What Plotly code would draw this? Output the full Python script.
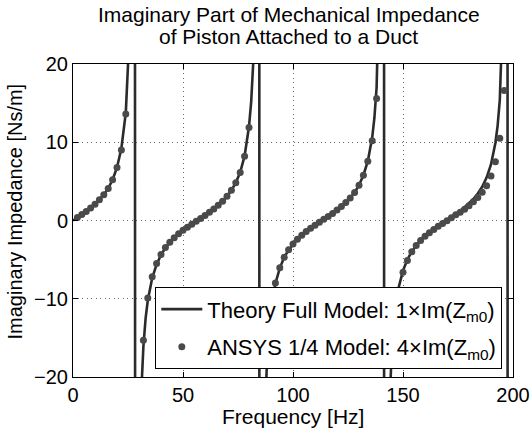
import plotly.graph_objects as go

# Theory curve (full model)
theory_freq = [0, 2, 4, 6, 8, 10, 12, 14, 16, 18, 20, 22, 24, 25, 26, 27, 28, 28.5, 29, 30,
               31, 32, 33, 34, 36, 38, 40, 42, 44, 46, 48, 50, 52, 54, 56, 58, 60, 62, 64, 66,
               68, 70, 72, 74, 76, 78, 80, 81, 82, 83, 84, 84.6, 84.8, 86, 87, 88, 89, 90, 92, 94,
               96, 98, 100, 102, 104, 106, 108, 110, 112, 114, 116, 118, 120, 122, 124, 126, 128, 130, 132, 134,
               136, 137, 138, 139, 140, 141, 141.3, 141.5, 142, 143, 144, 145, 146, 148, 150, 152, 154, 156,
               158, 160, 162, 164, 166, 168, 170, 172, 174, 176, 178, 180, 182, 184, 186, 188, 190, 192,
               193, 194, 195, 196, 197, 197.4, 197.7, 198, 199, 200]
theory_imz = [0, 0.37, 0.76, 1.16, 1.59, 2.08, 2.64, 3.29, 4.10, 5.21, 6.78, 9.23, 13.78, 18.25, 25.97, 46.6, 200.7, -301, -86.3, -35.4,
              -22.2, -16.1, -12.5, -10.2, -7.35, -5.61, -4.40, -3.51, -2.82, -2.24, -1.73, -1.28, -0.87, -0.49, -0.11, 0.26, 0.64, 1.03, 1.46, 1.93,
              2.46, 3.09, 3.85, 4.83, 6.17, 8.25, 12.01, 15.2, 20.6, 31.6, 66.9, 300, -300, -54.8, -28.6, -19.3, -14.5, -11.5, -8.04, -6.08,
              -4.71, -3.76, -3.02, -2.40, -1.88, -1.42, -0.99, -0.60, -0.22, 0.15, 0.52, 0.91, 1.33, 1.78, 2.29, 2.89, 3.59, 4.51, 5.79, 7.57,
              10.6, 13.1, 17.0, 24.0, 40.1, 120.5, 300, -300, -120.9, -40.2, -22.5, -16.2, -12.6, -8.6, -6.4, -5.0, -3.95, -3.17,
              -2.52, -1.98, -1.51, -1.08, -0.68, -0.30, 0.07, 0.45, 0.83, 1.24, 1.69, 2.18, 2.75, 3.44, 4.31, 5.48, 7.16, 9.9,
              12.1, 15.4, 21.0, 32.5, 75, 250, -300, -170, -44.4, -25.4]

# ANSYS 1/4 model (scaled x4)
ansys_freq = [2, 4, 6, 8, 10, 12, 14, 16, 18, 20, 22, 24,
              32, 34, 36, 38, 40, 42, 44, 46, 48, 50, 52, 54, 56, 58, 60, 62, 64, 66, 68, 70, 72, 74, 76, 78, 80,
              90, 92, 94, 96, 98, 100, 102, 104, 106, 108, 110, 112, 114, 116, 118, 120, 122, 124, 126, 128, 130,
              132, 134, 136, 138,
              146, 148, 150, 152, 154, 156, 158, 160, 162, 164, 166, 168, 170, 172, 174, 176, 178, 180, 182, 184,
              186, 188, 190, 192, 194, 196]
ansys_imz = [0.37, 0.76, 1.16, 1.59, 2.08, 2.64, 3.29, 4.10, 5.21, 6.78, 9.0, 13.6,
             -15.3, -9.9, -7.2, -5.5, -4.35, -3.45, -2.78, -2.2, -1.7, -1.25, -0.85, -0.47, -0.1, 0.27, 0.65, 1.04, 1.47, 1.94, 2.47, 3.1, 3.86, 4.84, 6.15, 8.2, 11.9,
             -11.5, -8.0, -6.05, -4.7, -3.75, -3.0, -2.4, -1.88, -1.42, -0.99, -0.6, -0.22, 0.15, 0.52, 0.91, 1.33, 1.78, 2.29, 2.89, 3.59, 4.51,
             5.79, 7.57, 10.2, 15.6,
             -12.8, -8.9, -6.6, -5.1, -4.0, -3.2, -2.55, -2.0, -1.55, -1.15, -0.75, -0.38, -0.02, 0.35, 0.72, 1.05, 1.45, 1.9, 2.4, 2.95,
             3.6, 4.45, 5.7, 7.5, 10.5, 16.6]

x_ticks = [0, 50, 100, 150, 200]
y_ticks = [-20, -10, 0, 10, 20]

FONT = "Liberation Sans, Arial, Helvetica, sans-serif"

fig = go.Figure()
fig.add_trace(go.Scatter(
    x=theory_freq, y=theory_imz, mode="lines",
    line=dict(color="#2b2b2b", width=2.6),
    name="Theory Full Model: 1×Im(Z<sub>m0</sub>)",
    legendgroup="a",
))
fig.add_trace(go.Scatter(
    x=ansys_freq, y=ansys_imz, mode="markers",
    marker=dict(color="#4a4a4a", size=7),
    name="ANSYS 1/4 Model: 4×Im(Z<sub>m0</sub>)",
    legendgroup="b",
))

axis_common = dict(
    showline=True, linecolor="black", linewidth=1, mirror="ticks",
    ticks="inside", ticklen=5, tickcolor="black", tickwidth=1,
    showgrid=True, gridcolor="#6a6a6a", gridwidth=1, griddash="1px,3.5px",
    zeroline=False, automargin=False,
    tickfont=dict(family=FONT, size=20, color="black"),
)

fig.update_layout(
    width=530, height=432,
    margin=dict(l=73, r=17, t=64, b=55, autoexpand=False),
    paper_bgcolor="white", plot_bgcolor="white",
    font=dict(family=FONT, color="black"),
    xaxis=dict(range=[0, 200], tickvals=x_ticks, **axis_common),
    yaxis=dict(range=[-20, 20], tickvals=y_ticks, **axis_common),
    showlegend=True,
    legend=dict(
        x=0.9757, xanchor="right", y=0.0246, yanchor="bottom",
        bgcolor="white", bordercolor="black", borderwidth=1,
        font=dict(family=FONT, size=22, color="black"),
        itemwidth=41, traceorder="grouped", tracegroupgap=6,
    ),
    annotations=[
        dict(text="Imaginary Part of Mechanical Impedance", xref="paper", yref="paper",
             x=0.49, y=1.157, xanchor="center", yanchor="middle", showarrow=False,
             font=dict(family=FONT, size=21, color="black")),
        dict(text="of Piston Attached to a Duct", xref="paper", yref="paper",
             x=0.49, y=1.0863, xanchor="center", yanchor="middle", showarrow=False,
             font=dict(family=FONT, size=21, color="black")),
        dict(text="Frequency [Hz]", xref="paper", yref="paper",
             x=0.5, y=-0.1255, xanchor="center", yanchor="middle", showarrow=False,
             font=dict(family=FONT, size=21, color="black")),
        dict(text="Imaginary Impedance [Ns/m]", xref="paper", yref="paper",
             x=-0.1318, y=0.5288, xanchor="center", yanchor="middle", showarrow=False,
             textangle=-90, font=dict(family=FONT, size=20, color="black")),
    ],
)

fig.write_html("out.html", config={"displayModeBar": False},
               post_script="document.body.style.margin='0px';document.body.style.padding='0px';")
